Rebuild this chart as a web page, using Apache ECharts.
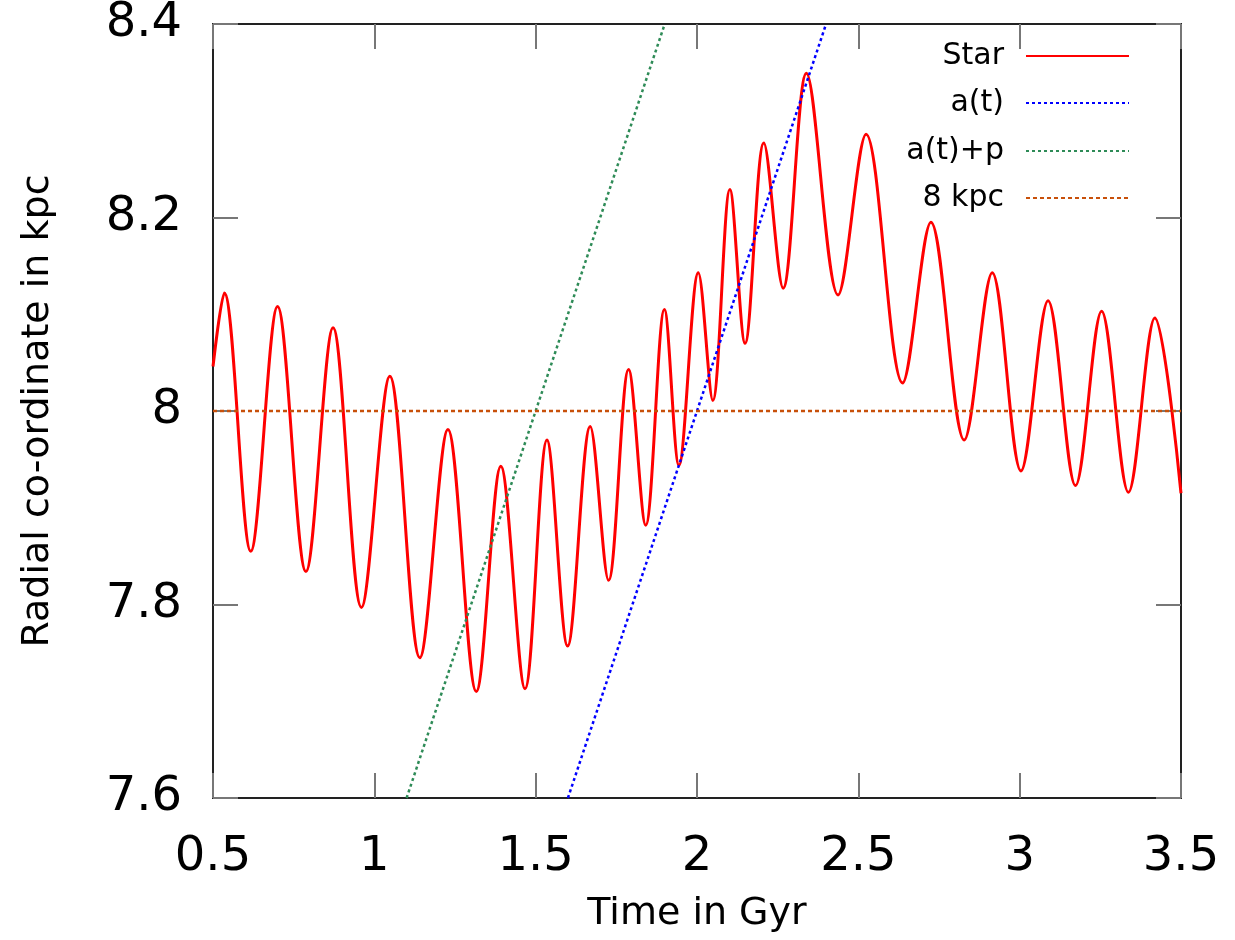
<!DOCTYPE html>
<html>
<head>
<meta charset="utf-8">
<script src="https://cdn.jsdelivr.net/npm/echarts@6/dist/echarts.min.js"></script>
<style>
html,body{margin:0;padding:0;background:#fff;}
#chart{width:1235px;height:940px;}
</style>
</head>
<body>
<div id="chart"></div>
<script>
// ---- data ----
const xTicks = [0.5, 1, 1.5, 2, 2.5, 3, 3.5];
const yTicks = [7.6, 7.8, 8.0, 8.2, 8.4];
const seriesNames = ['Star', 'a(t)', 'a(t)+p', '8 kpc'];
// Star orbit: start, peaks/troughs, end  [time Gyr, radius kpc]
const starTime = [0.5, 0.535, 0.617, 0.700, 0.788, 0.872, 0.960, 1.048, 1.141, 1.228,
  1.316, 1.392, 1.467, 1.535, 1.599, 1.669, 1.726, 1.788, 1.841, 1.899,
  1.944, 2.004, 2.049, 2.102, 2.149, 2.207, 2.267, 2.339, 2.437, 2.524,
  2.637, 2.725, 2.828, 2.915, 3.004, 3.088, 3.173, 3.254, 3.337, 3.419, 3.5];
const starR = [8.046, 8.122, 7.855, 8.108, 7.834, 8.086, 7.797, 8.036, 7.745, 7.981,
  7.710, 7.943, 7.713, 7.970, 7.757, 7.984, 7.825, 8.043, 7.882, 8.105,
  7.944, 8.143, 8.011, 8.229, 8.070, 8.277, 8.127, 8.349, 8.120, 8.286,
  8.029, 8.195, 7.970, 8.143, 7.938, 8.114, 7.923, 8.103, 7.916, 8.096, 7.915];
const aTime = [1.6, 2.4];
const aR = [7.6, 8.4];
const apTime = [1.1, 1.9];
const apR = [7.6, 8.4];
const refTime = [0.5, 3.5];
const refR = [8.0, 8.0];

const pairs = (xs, ys) => xs.map((x, i) => [x, ys[i]]);
const FONT = 'DejaVu Sans';
const tickStyle = {show: true, inside: true, length: 25, lineStyle: {color: '#777', width: 2}};

const chart = echarts.init(document.getElementById('chart'), null, {renderer: 'canvas'});
const legendTops = [41, 88, 136, 183];
const option = {
  animation: false,
  backgroundColor: '#fff',
  grid: {left: 213, right: 54, top: 24, bottom: 142, show: true, borderColor: '#222', borderWidth: 2, backgroundColor: 'transparent'},
  legend: seriesNames.map((n, i) => ({
    data: [n], orient: 'vertical', align: 'right', right: 105, top: legendTops[i], padding: 0,
    itemWidth: 103, itemHeight: 14, selectedMode: false,
    itemStyle: {opacity: 0},
    textStyle: {fontFamily: FONT, fontSize: 30, color: '#000', padding: [0, 17, 0, 0]}
  })),
  xAxis: [{
    type: 'value', min: xTicks[0], max: xTicks[xTicks.length - 1], interval: xTicks[1] - xTicks[0],
    axisLine: {show: false}, splitLine: {show: false}, axisTick: tickStyle,
    axisLabel: {fontFamily: FONT, fontSize: 48, color: '#000', margin: 36},
    name: 'Time in Gyr', nameLocation: 'middle', nameGap: 97,
    nameTextStyle: {fontFamily: FONT, fontSize: 38, color: '#000'}
  }, {
    type: 'value', position: 'top', min: xTicks[0], max: xTicks[xTicks.length - 1], interval: xTicks[1] - xTicks[0],
    axisLine: {show: false}, splitLine: {show: false}, axisTick: tickStyle, axisLabel: {show: false}
  }],
  yAxis: [{
    type: 'value', min: yTicks[0], max: yTicks[yTicks.length - 1], interval: 0.2,
    axisLine: {show: false}, splitLine: {show: false}, axisTick: tickStyle,
    axisLabel: {fontFamily: FONT, fontSize: 48, color: '#000', margin: 31,
      formatter: v => String(Math.round(v * 10) / 10)},
    name: 'Radial co-ordinate in kpc', nameLocation: 'middle', nameGap: 156, nameRotate: 90,
    nameTextStyle: {fontFamily: FONT, fontSize: 38, color: '#000'}
  }, {
    type: 'value', position: 'right', min: yTicks[0], max: yTicks[yTicks.length - 1], interval: 0.2,
    axisLine: {show: false}, splitLine: {show: false}, axisTick: tickStyle, axisLabel: {show: false}
  }],
  series: [
    {name: seriesNames[0], type: 'line', data: pairs(starTime, starR), symbol: 'none', smooth: 0.34,
      lineStyle: {color: '#ff0000', width: 3}, itemStyle: {color: '#ff0000'}},
    {name: seriesNames[1], type: 'line', data: pairs(aTime, aR), symbol: 'none',
      lineStyle: {color: '#0000ff', width: 2.5, type: [3, 3]}, itemStyle: {color: '#0000ff'}},
    {name: seriesNames[2], type: 'line', data: pairs(apTime, apR), symbol: 'none',
      lineStyle: {color: '#2e8b57', width: 2.5, type: [3, 3]}, itemStyle: {color: '#2e8b57'}},
    {name: seriesNames[3], type: 'line', data: pairs(refTime, refR), symbol: 'none',
      lineStyle: {color: '#c8500a', width: 2.5, type: [4, 3]}, itemStyle: {color: '#c8500a'}}
  ]
};
chart.setOption(option);
</script>
</body>
</html>
